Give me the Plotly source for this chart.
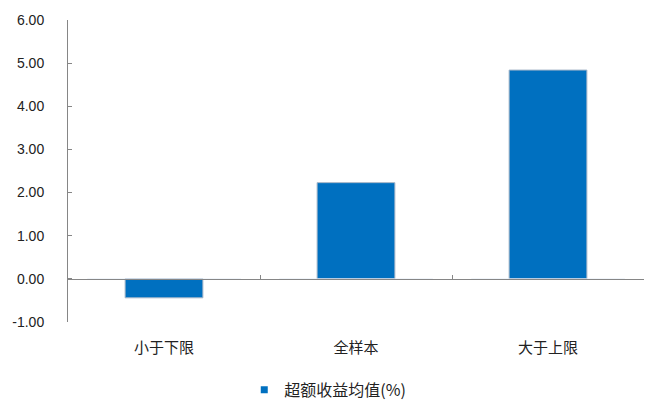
import plotly.graph_objects as go

categories = ["小于下限", "全样本", "大于上限"]
values = [-0.44, 2.23, 4.84]
series_name = "超额收益均值(%)"
y_ticks = [-1, 0, 1, 2, 3, 4, 5, 6]
y_tick_labels = ["-1.00", "0.00", "1.00", "2.00", "3.00", "4.00", "5.00", "6.00"]

font_family = "Liberation Sans, Noto Sans CJK SC, Arial, sans-serif"
cjk_family = "Noto Sans CJK SC, sans-serif"
axis_grey = "#868686"
text_color = "#222222"
bar_color = "#0070C0"

fig = go.Figure()
fig.add_trace(go.Bar(
    x=categories, y=values, name=series_name,
    marker=dict(color=bar_color, line=dict(color="#A6B6C8", width=1)),
    width=0.405, showlegend=False, xaxis="x", yaxis="y",
))
# zero line with boundary tick marks (overlay axis)
fig.add_trace(go.Bar(
    x=categories, y=[0, 0, 0], xaxis="x2", yaxis="y",
    showlegend=False, hoverinfo="skip", marker=dict(color="rgba(0,0,0,0)"),
))
# legend entry
fig.add_trace(go.Scatter(
    x=[None], y=[None], mode="markers", name=series_name,
    marker=dict(symbol="square", size=7, color=bar_color),
    showlegend=True,
))

# page body has an 8px margin, so the figure is offset by 8px
fig.update_layout(
    width=638, height=392,
    margin=dict(l=60, r=2, t=12, b=78, autoexpand=False),
    paper_bgcolor="white", plot_bgcolor="white",
    font=dict(family=font_family, size=12, color=text_color),
    barmode="overlay",
    xaxis=dict(
        type="category", range=[-0.5, 2.5], showline=False, showgrid=False,
        zeroline=False, ticks="", ticklabelstandoff=15, automargin=False,
        tickfont=dict(family=cjk_family, size=15, color=text_color),
    ),
    xaxis2=dict(
        type="category", overlaying="x", anchor="free", position=1/7, side="bottom",
        range=[-0.5, 2.5], showline=True, linecolor=axis_grey, linewidth=1,
        ticks="inside", tickson="boundaries", ticklen=4, tickcolor=axis_grey, tickwidth=1,
        showticklabels=False, showgrid=False, zeroline=False, automargin=False,
    ),
    yaxis=dict(
        range=[-1, 6], tickmode="array", tickvals=y_ticks, ticktext=y_tick_labels,
        showline=True, linecolor=axis_grey, linewidth=1,
        ticks="inside", ticklen=4, tickcolor=axis_grey,
        showgrid=False, zeroline=False, ticklabelstandoff=20, automargin=False,
        tickfont=dict(size=14, color=text_color),
    ),
    legend=dict(
        orientation="h", x=0.306, xanchor="left", y=-0.225, yanchor="middle",
        font=dict(family=cjk_family, size=16, color=text_color),
        itemwidth=30,
    ),
)

fig.write_html("out.html")
